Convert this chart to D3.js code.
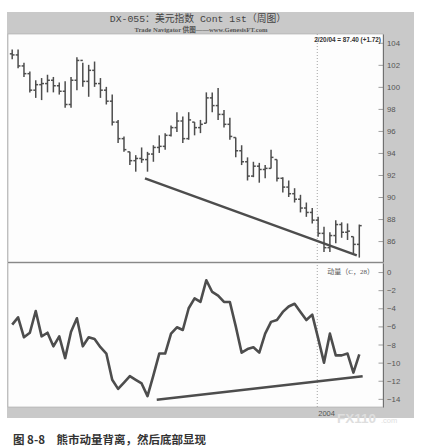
<!DOCTYPE html>
<html><head><meta charset="utf-8">
<script src="https://cdn.jsdelivr.net/npm/d3@7/dist/d3.min.js"></script>
<style>
html,body{margin:0;padding:0;background:#fff;}
svg{display:block;}
</style></head>
<body>
<script>
// ---------------- data ----------------
const startDate = "2003-01-03";           // first weekly bar (Friday)
const highs  = [103.4,103.4,102.2,101.4,100.6,100.8,101.1,100.9,100.4,100.5,100.9,102.7,102.2,102.0,102.3,100.8,100.0,99.3,97.0,95.5,
                94.1,93.8,94.5,94.1,94.7,95.6,95.8,96.5,97.7,97.3,97.7,96.8,97.0,99.5,99.5,99.9,97.9,97.2,95.4,94.7,
                93.6,93.2,93.1,92.9,94.3,93.4,91.8,91.5,90.8,90.2,89.5,89.0,88.2,87.3,86.8,87.9,87.7,87.6,86.4,87.5];
const lows   = [102.5,101.7,100.9,99.5,99.0,98.8,99.5,99.5,99.3,98.1,98.1,99.7,100.0,99.1,100.0,99.0,98.4,96.5,94.9,94.1,
                92.9,92.3,93.1,92.3,93.2,94.0,94.3,95.5,95.9,94.9,95.2,95.6,95.8,96.7,97.7,97.0,96.3,95.2,93.6,92.9,
                91.5,91.8,91.3,91.7,92.6,91.4,90.4,90.0,89.5,88.6,88.2,87.6,86.4,85.0,85.0,85.8,86.3,86.1,84.9,84.5];
const opens  = [103.0,102.9,101.9,101.2,99.7,100.2,100.3,100.6,100.1,99.6,98.4,100.6,102.4,100.5,101.5,100.3,99.7,98.7,96.8,95.3,
                94.1,93.3,93.5,93.4,93.9,94.5,94.6,95.6,96.3,96.9,95.3,96.8,96.3,96.7,99.0,98.3,97.5,96.6,95.4,94.2,
                93.2,91.9,92.8,92.5,92.6,93.4,91.7,90.9,90.3,89.8,89.0,88.6,87.9,86.7,85.4,86.5,87.5,86.8,86.4,85.7];
const closes = [102.9,101.9,101.2,99.7,100.2,100.3,100.6,100.1,99.6,98.4,100.6,102.4,100.5,101.5,100.3,99.7,98.7,96.8,95.3,94.3,
                93.3,93.5,93.4,93.9,94.5,94.6,95.6,96.3,96.9,95.3,97.0,96.3,96.6,99.0,98.3,97.5,96.6,95.5,94.2,93.2,
                91.9,92.8,92.5,92.6,93.6,91.7,90.9,90.3,89.8,89.0,88.6,87.9,86.7,85.4,86.5,87.5,86.8,86.9,85.7,87.4];
const momentum = [-5.8,-5.0,-7.2,-6.7,-4.3,-7.1,-6.7,-8.2,-7.1,-9.5,-6.6,-5.1,-8.2,-7.2,-7.4,-8.3,-9.0,-11.9,-12.9,-12.2,
                  -11.5,-11.9,-12.3,-13.7,-11.4,-9.0,-9.0,-6.8,-6.1,-6.4,-4.0,-2.9,-3.3,-0.9,-2.2,-2.6,-3.3,-3.3,-6.0,-8.9,
                  -8.5,-8.3,-8.9,-6.8,-5.5,-5.3,-4.4,-3.8,-3.5,-4.4,-5.3,-4.7,-7.3,-10.0,-6.8,-9.2,-9.2,-9.0,-11.1,-9.1];
const priceTrend    = [{date:"2003-06-10", value:91.7}, {date:"2004-02-17", value:84.7}];
const momentumTrend = [{date:"2003-06-24", value:-14.1}, {date:"2004-02-24", value:-11.5}];
const priceTicks    = [104,102,100,98,96,94,92,90,88,86];
const momentumTicks = [0,-2,-4,-6,-8,-10,-12,-14];
const yearMarks     = [{date:"2004-01-01", label:"2004"}];
const titleText    = "DX-055：美元指数 Cont 1st（周图）";
const subtitleText = "Trade Navigator 供图——www.GenesisFT.com";
const lastText     = "2/20/04 = 87.40 (+1.72)";
const momLabel     = "动量（C，28）";
const captionText  = "图 8-8　熊市动量背离，然后底部显现";

// ---------------- build ----------------
const W = 423, H = 448;
const parse = d3.utcParse("%Y-%m-%d");
const d0 = parse(startDate);
const dates = highs.map((_, i) => d3.utcDay.offset(d0, 7 * i));
const bars = dates.map((d, i) => ({date: d, o: opens[i], h: highs[i], l: lows[i], c: closes[i], m: momentum[i]}));

const svg = d3.select("body").append("svg").attr("width", W).attr("height", H);

const frame = {x: 7, y: 12, w: 407, h: 406};
const plotL = 8, plotR = 383;
const upper = {t: 34, b: 262};
const lower = {t: 263, b: 407};

svg.append("rect").attr("x", frame.x).attr("y", frame.y).attr("width", frame.w).attr("height", frame.h).attr("fill", "#c9c9c9");
svg.append("rect").attr("x", plotL).attr("y", upper.t).attr("width", plotR - plotL).attr("height", upper.b - upper.t)
   .attr("fill", "#fdfdfd").attr("stroke", "#a8a8a8").attr("stroke-width", 0.6);
svg.append("rect").attr("x", plotL).attr("y", lower.t).attr("width", plotR - plotL).attr("height", lower.b - lower.t)
   .attr("fill", "#fdfdfd").attr("stroke", "#a8a8a8").attr("stroke-width", 0.6);

const x = d3.scaleUtc().domain([dates[0], dates[dates.length - 1]]).range([12.2, 359.3]);
const yP = d3.scaleLinear().domain([84.1, 104.8]).range([upper.b, upper.t]);
const yM = d3.scaleLinear().domain([-14.9, 1.0]).range([lower.b, lower.t]);

// year gridline
yearMarks.forEach(ym => {
  const xx = x(parse(ym.date));
  svg.append("line").attr("x1", xx).attr("x2", xx).attr("y1", upper.t).attr("y2", lower.b)
     .attr("stroke", "#9a9a9a").attr("stroke-width", 0.9).attr("stroke-dasharray", "1,2");
  svg.append("text").attr("x", xx + 1).attr("y", 416).text(ym.label)
     .attr("font-family", "Liberation Sans, Arial, sans-serif").attr("font-size", 7.5).attr("fill", "#555");
});

// axes
function drawAxis(scale, ticks, minorStep) {
  const g = svg.append("g").attr("transform", `translate(${plotR},0)`);
  const dom = scale.domain();
  const lo = Math.min(...dom), hi = Math.max(...dom);
  const minor = d3.range(Math.ceil(lo / minorStep) * minorStep, hi, minorStep);
  g.call(d3.axisRight(scale).tickValues(minor).tickSizeInner(-2).tickSizeOuter(0).tickFormat(""));
  g.call(d3.axisRight(scale).tickValues(ticks).tickSizeInner(-4.5).tickSizeOuter(0).tickPadding(4));
  g.selectAll("path.domain").attr("stroke", "#666").attr("stroke-width", 0.9);
  g.selectAll("line").attr("stroke", "#777").attr("stroke-width", 0.7);
  g.selectAll("text").attr("font-family", "Liberation Sans, Arial, sans-serif").attr("font-size", 7.8).attr("fill", "#555");
  return g;
}
drawAxis(yP, priceTicks, 0.5);
drawAxis(yM, momentumTicks, 0.5);

// panel separator
svg.append("line").attr("x1", plotL).attr("x2", plotR).attr("y1", upper.b + 0.5).attr("y2", upper.b + 0.5)
   .attr("stroke", "#888").attr("stroke-width", 1);

// OHLC bars
const ink = "#4d4d4d";
const tk = 2.4;
const gb = svg.append("g").attr("stroke", ink).attr("stroke-width", 1.5).attr("fill", "none");
bars.forEach(b => {
  const xx = x(b.date);
  gb.append("line").attr("x1", xx).attr("x2", xx).attr("y1", yP(b.h)).attr("y2", yP(b.l));
  gb.append("line").attr("x1", xx - tk).attr("x2", xx).attr("y1", yP(b.o)).attr("y2", yP(b.o));
  gb.append("line").attr("x1", xx).attr("x2", xx + tk).attr("y1", yP(b.c)).attr("y2", yP(b.c));
});

// trendlines
const tline = (ys) => d3.line().x(d => x(parse(d.date))).y(d => ys(d.value));
svg.append("path").attr("d", tline(yP)(priceTrend)).attr("stroke", ink).attr("stroke-width", 2.4).attr("fill", "none");
svg.append("path").attr("d", tline(yM)(momentumTrend)).attr("stroke", ink).attr("stroke-width", 2.4).attr("fill", "none");

// momentum line
svg.append("path").datum(bars)
   .attr("d", d3.line().x(d => x(d.date)).y(d => yM(d.m)))
   .attr("stroke", ink).attr("stroke-width", 2.6).attr("fill", "none").attr("stroke-linejoin", "round");

// texts
svg.append("text").attr("x", 198).attr("y", 21.5).attr("text-anchor", "middle").text(titleText)
   .attr("font-family", "Liberation Mono, 'Noto Sans CJK SC', monospace").attr("font-size", 9.8).attr("fill", "#444");
svg.append("text").attr("x", 201).attr("y", 31.5).attr("text-anchor", "middle").text(subtitleText)
   .attr("font-family", "Liberation Serif, 'Noto Sans CJK SC', serif").attr("font-size", 6.6).attr("font-weight", "bold").attr("fill", "#555");
svg.append("text").attr("x", 381).attr("y", 42).attr("text-anchor", "end").text(lastText)
   .attr("font-family", "Liberation Sans, Arial, sans-serif").attr("font-size", 6.4).attr("font-weight", "bold").attr("fill", "#333");
svg.append("text").attr("x", 374).attr("y", 273.5).attr("text-anchor", "end").text(momLabel)
   .attr("font-family", "Liberation Serif, 'Noto Sans CJK SC', serif").attr("font-size", 7).attr("fill", "#555");

// watermark
svg.append("text").attr("x", 337).attr("y", 423).text("FX110")
   .attr("font-family", "Liberation Sans, Arial, sans-serif").attr("font-size", 13.5).attr("font-weight", "bold").attr("fill", "#dedede");
svg.append("text").attr("x", 381).attr("y", 423).text(".com")
   .attr("font-family", "Liberation Sans, Arial, sans-serif").attr("font-size", 7.5).attr("fill", "#dedede");

// caption
svg.append("text").attr("x", 13).attr("y", 444).text(captionText)
   .attr("font-family", "'Noto Sans CJK SC', sans-serif").attr("font-size", 11.5).attr("font-weight", "bold").attr("fill", "#333");
</script>
</body></html>
